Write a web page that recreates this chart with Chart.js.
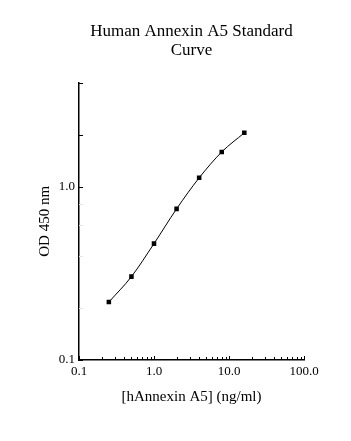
<!DOCTYPE html>
<html>
<head>
<meta charset="utf-8">
<script src="https://cdn.jsdelivr.net/npm/chart.js@4"></script>
<style>
  html, body { margin: 0; padding: 0; background: #ffffff; }
  #box { width: 351px; height: 441px; }
</style>
</head>
<body>
<div id="box"><canvas id="curveChart"></canvas></div>
<script>
// Curva padrão
const concentracoes = [0.25, 0.5, 1, 2, 4, 8, 16];
const densidades = [0.216, 0.303, 0.47, 0.746, 1.127, 1.59, 2.05];

const xTicks = [0.1, 0.2, 0.3, 0.4, 0.5, 0.6, 0.7, 0.8, 0.9, 1, 2, 3, 4, 5, 6, 7, 8, 9, 10, 20, 30, 40, 50, 60, 70, 80, 90, 100];
const xLabels = [0.1, 1, 10, 100];
const yTicks = [0.1, 0.2, 0.4, 0.6, 0.8, 1, 2, 4];
const yLabels = [0.1, 1];
const yFracos = [0.2, 0.4, 0.6, 0.8];

Chart.defaults.font.family = "'Liberation Serif', 'Times New Roman', serif";
Chart.defaults.color = "#000000";

// marcas dos eixos desenhadas para dentro
const ticksInternos = {
  id: "ticksInternos",

  afterDraw(chart) {
    const { ctx, chartArea, scales } = chart;
    ctx.save();
    ctx.lineWidth = 1;

    scales.x.ticks.forEach((t) => {
      const px = Math.round(scales.x.getPixelForValue(t.value)) + 0.5;
      const len = xLabels.includes(t.value) ? 4 : 3;
      ctx.strokeStyle = "#000000";
      ctx.beginPath();
      ctx.moveTo(px, chartArea.bottom);
      ctx.lineTo(px, chartArea.bottom - len);
      ctx.stroke();
    });

    scales.y.ticks.forEach((t) => {
      const py = Math.round(scales.y.getPixelForValue(t.value)) + 0.5;
      ctx.strokeStyle = yFracos.includes(t.value) ? "#e4e4e4" : "#000000";
      ctx.beginPath();
      ctx.moveTo(chartArea.left, py);
      ctx.lineTo(chartArea.left + 4, py);
      ctx.stroke();
    });

    ctx.restore();
  },
};

new Chart(document.getElementById("curveChart"), {
  type: "line",

  data: {
    datasets: [
      {
        label: "Standard",
        data: concentracoes.map((c, i) => ({ x: c, y: densidades[i] })),

        borderColor: "#000000",
        borderWidth: 1,
        cubicInterpolationMode: "monotone",

        pointStyle: "rect",
        pointRadius: 3.2,
        pointBorderWidth: 0,
        pointBackgroundColor: "#000000",
      },
    ],
  },

  plugins: [ticksInternos],

  options: {
    responsive: true,
    maintainAspectRatio: false,
    animation: false,

    layout: {
      padding: { left: 0, right: 47, top: 0, bottom: 0 },
    },

    plugins: {
      legend: { display: false },
      tooltip: { enabled: false },

      title: {
        display: true,
        fullSize: false,
        text: ["Human Annexin A5 Standard", "Curve"],
        color: "#000000",

        font: {
          size: 17,
          weight: "normal",
          lineHeight: 1.135,
        },

        padding: { top: 22, bottom: 22 },
      },
    },

    scales: {
      x: {
        type: "logarithmic",
        min: 0.1,
        max: 100,

        afterBuildTicks: (scale) => {
          scale.ticks = xTicks.map((v) => ({ value: v }));
        },
        afterFit: (scale) => {
          scale.height = 81;
        },

        grid: { display: false, drawTicks: false },
        border: { color: "#000000", width: 1.5 },

        ticks: {
          autoSkip: false,
          maxRotation: 0,
          padding: 4,
          color: "#000000",
          font: { size: 13 },

          callback: function (value) {
            return xLabels.includes(value) ? value.toFixed(1) : "";
          },
        },

        title: {
          display: true,
          text: "[hAnnexin A5] (ng/ml)",
          color: "#000000",
          font: { size: 15 },
          padding: { top: 0, bottom: 35 },
        },
      },

      y: {
        type: "logarithmic",
        min: 0.1,
        max: 4,

        afterBuildTicks: (scale) => {
          scale.ticks = yTicks.map((v) => ({ value: v }));
        },
        afterFit: (scale) => {
          scale.width = 79;
        },

        grid: { display: false, drawTicks: false },
        border: { color: "#000000", width: 1.5 },

        ticks: {
          autoSkip: false,
          padding: 4,
          color: "#000000",
          font: { size: 13 },

          callback: function (value) {
            return yLabels.includes(value) ? value.toFixed(1) : "";
          },
        },

        title: {
          display: true,
          text: "OD 450 nm",
          color: "#000000",
          font: { size: 15 },
          padding: { top: 36, bottom: 0 },
        },
      },
    },
  },
});
</script>
</body>
</html>
